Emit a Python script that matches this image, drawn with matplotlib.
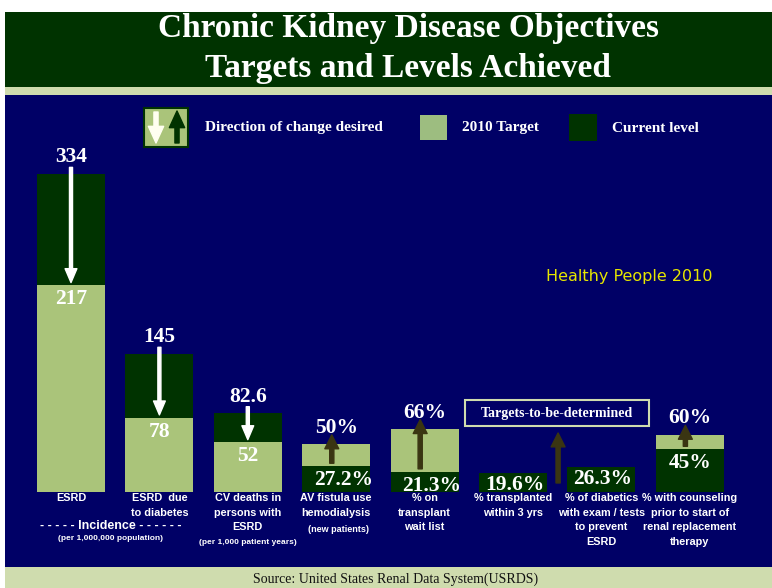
import matplotlib
matplotlib.use("Agg")
import matplotlib.pyplot as plt
from matplotlib.patches import Rectangle, FancyArrowPatch

# data
cat_labels = ["ESRD", "ESRD  due\nto diabetes", "CV deaths in\npersons with\nESRD",
              "AV fistula use\nhemodialysis", "% on\ntransplant\nwait list",
              "% transplanted\nwithin 3 yrs", "% of diabetics\nwith exam / tests\nto prevent\nESRD",
              "% with counseling\nprior to start of\nrenal replacement\ntherapy"]
current = [334, 145, 82.6, 27.2, 21.3, 19.6, 26.3, 45]
target = [217, 78, 52, 50, 66, None, None, 60]
label_text_cur = ["334", "145", "82.6", "27.2%", "21.3%", "19.6%", "26.3%", "45%"]
label_text_tgt = ["217", "78", "52", "50%", "66%", None, None, "60%"]
direction = ["down", "down", "down", "up", "up", None, "up", "up"]

NAVY = "#000066"
DKGREEN = "#003300"
LTGREEN = "#aac47a"
STRIP = "#cfdcae"
OLIVE = "#3a3512"

W, H = 772, 588
fig = plt.figure(figsize=(W / 100, H / 100), dpi=100)
fig.patch.set_facecolor("white")

def fx(x):
    return x / W

def fy(y):
    return 1 - y / H

def band(x0, y0, x1, y1, color, z=-5, **kw):
    fig.patches.append(Rectangle((fx(x0), fy(y1)), fx(x1) - fx(x0), fy(y0) - fy(y1),
                                 transform=fig.transFigure, facecolor=color, zorder=z, **kw))

# background bands
band(5, 12, 772, 87, DKGREEN, edgecolor="none")
band(5, 87, 772, 95, STRIP, edgecolor="none")
band(5, 95, 772, 567, NAVY, edgecolor="none")
band(5, 567, 772, 588, STRIP, edgecolor="none")

serif = ["Liberation Serif", "DejaVu Serif"]
sans = ["Liberation Sans", "DejaVu Sans"]

fig.text(fx(408), fy(28), "Chronic Kidney Disease Objectives", ha="center", va="center",
         family=serif, weight="bold", size=24, color="white")
fig.text(fx(408), fy(68), "Targets and Levels Achieved", ha="center", va="center",
         family=serif, weight="bold", size=24, color="white")
fig.text(fx(396), fy(579), "Source: United States Renal Data System(USRDS)", ha="center",
         va="center", family=serif, size=10, color="#111111")

# bar axes: y=0 at pixel 492, 0.952 px per unit, category spacing 88.4 px from x=71
k = 0.952
ax = fig.add_axes([fx(5), fy(567), fx(772) - fx(5), fy(95) - fy(567)])
ax.set_xlim((5 - 71) / 88.4, (772 - 71) / 88.4)
ax.set_ylim(-(567 - 492) / k, (492 - 95) / k)
ax.axis("off")

bw = 68 / 88.4
for i in range(len(current)):
    c = current[i]
    t = target[i]
    if t is None:
        ax.bar(i, c, width=bw, color=DKGREEN, zorder=2)
        ax.annotate(label_text_cur[i], (i, c), xytext=(1, -8.5), textcoords="offset points",
                    ha="center", va="center", family=serif, weight="bold", size=15.5,
                    color="white", zorder=5)
        continue
    big_first = c >= t
    ax.bar(i, c, width=bw, color=DKGREEN, zorder=2 if big_first else 3)
    ax.bar(i, t, width=bw, color=LTGREEN, zorder=3 if big_first else 2)
    hi_txt = label_text_cur[i] if big_first else label_text_tgt[i]
    lo_txt = label_text_tgt[i] if big_first else label_text_cur[i]
    ax.annotate(hi_txt, (i, max(c, t)), xytext=(0, 12), textcoords="offset points",
                ha="center", va="center", family=serif, weight="bold", size=15.5,
                color="white", zorder=5)
    dx = 5 if not big_first and i in (3, 4) else 0
    ax.annotate(lo_txt, (i, min(c, t)), xytext=(dx, -10), textcoords="offset points",
                ha="center", va="center", family=serif, weight="bold", size=15.5,
                color="white", zorder=5)

# direction arrows
for i in range(len(current)):
    d = direction[i]
    c = current[i]
    t = target[i]
    if d == "down":
        ax.annotate("", xy=(i, t + 3), xytext=(i, c + 7),
                    arrowprops=dict(arrowstyle="simple,head_length=1.0,head_width=0.85,tail_width=0.22",
                                    color="white", shrinkA=0, shrinkB=0, mutation_scale=10),
                    zorder=6)
    elif d == "up":
        if t is None:
            xa = i - 0.49
            y0, y1 = 9.5, 62
        else:
            xa = i - 0.05
            y0, y1 = c + 3, t + 10
        ax.annotate("", xy=(xa, y1), xytext=(xa, y0),
                    arrowprops=dict(arrowstyle="simple,head_length=1.0,head_width=1.0,tail_width=0.3",
                                    color=OLIVE, shrinkA=0, shrinkB=0, mutation_scale=10),
                    zorder=6)

# category labels
for i, lab in enumerate(cat_labels):
    ax.text(i, -1.5, lab, ha="center", va="top", family=sans, weight="bold", size=7.8,
            color="white", linespacing=1.55, zorder=7)

ax.text(0.45, -(526 - 492) / k, "- - - - - Incidence - - - - - -", ha="center", va="center",
        family=sans, weight="bold", size=9, color="white")
ax.text(0.45, -(539 - 492) / k, "(per 1,000,000 population)", ha="center", va="center",
        family=sans, weight="bold", size=6, color="white")
ax.text(2, -(542 - 492) / k, "(per 1,000 patient years)", ha="center", va="center",
        family=sans, weight="bold", size=6, color="white")
ax.text(3.03, -(529 - 492) / k, "(new patients)", ha="center", va="center",
        family=sans, weight="bold", size=6.5, color="white")

# annotations on the navy panel
fig.text(fx(629), fy(276), "Healthy People 2010", ha="center", va="center",
         family=["DejaVu Sans"], size=11.5, color="#e6e600")
band(465, 400, 649, 426, NAVY, z=1, edgecolor=STRIP, linewidth=1.5)
fig.text(fx(557), fy(413), "Targets-to-be-determined", ha="center", va="center",
         family=serif, weight="bold", size=10, color="white")

# legend
band(144, 108, 188, 147, LTGREEN, z=1, edgecolor=DKGREEN, linewidth=1.5)
fig.patches.append(FancyArrowPatch(
    (fx(156), fy(112)), (fx(156), fy(143)), transform=fig.transFigure,
    arrowstyle="simple,head_length=1.2,head_width=1.1,tail_width=0.3",
    mutation_scale=10, color="#fffff0", shrinkA=0, shrinkB=0, zorder=2))
fig.patches.append(FancyArrowPatch(
    (fx(177), fy(143)), (fx(177), fy(111)), transform=fig.transFigure,
    arrowstyle="simple,head_length=1.2,head_width=1.1,tail_width=0.3",
    mutation_scale=10, color=DKGREEN, shrinkA=0, shrinkB=0, zorder=2))
fig.text(fx(205), fy(128), "Direction of change desired", ha="left", va="center",
         family=serif, weight="bold", size=11, color="white")
band(420, 115, 447, 140, "#9dbd80", z=1, edgecolor="none")
fig.text(fx(462), fy(128), "2010 Target", ha="left", va="center",
         family=serif, weight="bold", size=11, color="white")
band(569, 114, 597, 141, DKGREEN, z=1, edgecolor="none")
fig.text(fx(612), fy(128), "Current level", ha="left", va="center",
         family=serif, weight="bold", size=11, color="white")

fig.savefig("out.png", dpi=100)
